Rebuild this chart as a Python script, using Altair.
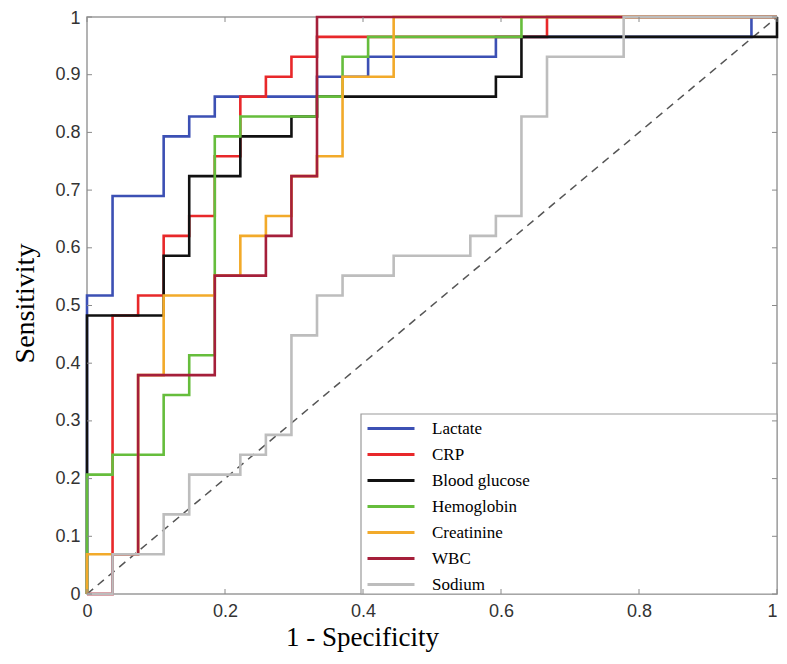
import altair as alt
import pandas as pd

# ROC step corners, as counts of false positives (of 27 negatives) and true positives (of 29 positives)
N_NEG = 27
N_POS = 29

series = ["Lactate", "CRP", "Blood glucose", "Hemoglobin", "Creatinine", "WBC", "Sodium"]
colors = ["#3c50b4", "#e8282a", "#111111", "#66bd3c", "#f2aa2a", "#a51f3a", "#bdbdbd"]

lactate_fp = [0, 0, 1, 1, 3, 3, 4, 4, 5, 5, 9, 9, 11, 11, 16, 16, 26, 26, 27]
lactate_tp = [0, 15, 15, 20, 20, 23, 23, 24, 24, 25, 25, 26, 26, 27, 27, 28, 28, 29, 29]

crp_fp = [0, 1, 1, 2, 2, 3, 3, 4, 4, 5, 5, 6, 6, 7, 7, 8, 8, 9, 9, 18, 18, 27]
crp_tp = [0, 0, 14, 14, 15, 15, 18, 18, 19, 19, 22, 22, 25, 25, 26, 26, 27, 27, 28, 28, 29, 29]

glucose_fp = [0, 0, 3, 3, 4, 4, 6, 6, 8, 8, 9, 9, 16, 16, 17, 17, 27, 27]
glucose_tp = [0, 14, 14, 17, 17, 21, 21, 23, 23, 24, 24, 25, 25, 26, 26, 28, 28, 29]

hb_fp = [0, 0, 1, 1, 3, 3, 4, 4, 5, 5, 6, 6, 9, 9, 10, 10, 11, 11, 17, 17, 27]
hb_tp = [0, 6, 6, 7, 7, 10, 10, 12, 12, 23, 23, 24, 24, 25, 25, 27, 27, 28, 28, 29, 29]

creat_fp = [0, 0, 2, 2, 3, 3, 5, 5, 6, 6, 7, 7, 8, 8, 9, 9, 10, 10, 12, 12, 27]
creat_tp = [0, 2, 2, 11, 11, 15, 15, 16, 16, 18, 18, 19, 19, 21, 21, 22, 22, 26, 26, 29, 29]

wbc_fp = [0, 1, 1, 2, 2, 5, 5, 7, 7, 8, 8, 9, 9, 27]
wbc_tp = [0, 0, 2, 2, 11, 11, 16, 16, 18, 18, 21, 21, 29, 29]

sodium_fp = [0, 1, 1, 3, 3, 4, 4, 6, 6, 7, 7, 8, 8, 9, 9, 10, 10, 12, 12, 15, 15, 16, 16, 17, 17, 18, 18, 21, 21, 27]
sodium_tp = [0, 0, 2, 2, 4, 4, 6, 6, 7, 7, 8, 8, 13, 13, 15, 15, 16, 16, 17, 17, 18, 18, 19, 19, 24, 24, 27, 27, 29, 29]

diag_x = [0, 1]
diag_y = [0, 1]

x_ticks = [0, 0.2, 0.4, 0.6, 0.8, 1]
y_ticks = [0, 0.1, 0.2, 0.3, 0.4, 0.5, 0.6, 0.7, 0.8, 0.9, 1]

W, H = 690, 577

curves = [
    ("Lactate", lactate_fp, lactate_tp),
    ("CRP", crp_fp, crp_tp),
    ("Blood glucose", glucose_fp, glucose_tp),
    ("Hemoglobin", hb_fp, hb_tp),
    ("Creatinine", creat_fp, creat_tp),
    ("WBC", wbc_fp, wbc_tp),
    ("Sodium", sodium_fp, sodium_tp),
]
rows = []
for name, fp, tp in curves:
    for i, (a, b) in enumerate(zip(fp, tp)):
        rows.append({"series": name, "i": i, "fpr": a / N_NEG, "tpr": b / N_POS})
df = pd.DataFrame(rows)

xscale = alt.Scale(domain=[0, 1], nice=False, zero=False)
yscale = alt.Scale(domain=[0, 1], nice=False, zero=False)

x_axis = alt.Axis(
    values=x_ticks, format="~g", grid=False, domain=False, ticks=False,
    labelFont="Liberation Sans", labelFontSize=18, labelColor="#333333",
    labelPadding=8, labelFlush=False, labelOverlap=False,
    labelAlign={"condition": {"test": "datum.value == 1", "value": "right"}, "value": "center"},
    title="1 - Specificity", titleFont="Liberation Serif", titleFontSize=27,
    titleFontWeight="normal", titleColor="black",
    titleX=275, titleY=51, titleAlign="center", titleBaseline="alphabetic",
)
y_axis = alt.Axis(
    values=y_ticks, format="~g", grid=False, domain=False, ticks=False,
    labelFont="Liberation Sans", labelFontSize=18, labelColor="#333333",
    labelPadding=7, labelOverlap=False, labelFlush=False,
    labelOffset={"condition": {"test": "datum.value == 1", "value": 1}, "value": 0},
    title="Sensitivity", titleFont="Liberation Serif", titleFontSize=28,
    titleFontWeight="normal", titleColor="black",
    titleX=-54, titleY=286, titleAngle=-90, titleAlign="center", titleBaseline="alphabetic",
)

legend = alt.Legend(
    orient="none", legendX=279, legendY=399, title=None,
    symbolType="stroke", symbolSize=2209, symbolStrokeWidth=3,
    clipHeight=25.2, rowPadding=0, padding=0,
    labelFont="Liberation Serif", labelFontSize=17, labelColor="black",
    labelOffset=16, labelLimit=400,
)

color = alt.Color("series:N", scale=alt.Scale(domain=series, range=colors), legend=legend)

# legend frame
box = alt.Chart(pd.DataFrame({"a": [0]})).mark_rect(
    fill="white", stroke="#9a9a9a", strokeWidth=1.2
).encode(x=alt.value(274), x2=alt.value(W), y=alt.value(397), y2=alt.value(H))

diag = alt.Chart(pd.DataFrame({"x": diag_x, "y": diag_y})).mark_line(
    color="#555555", strokeDash=[8, 6], strokeWidth=1.5
).encode(
    x=alt.X("x:Q", scale=xscale, axis=x_axis),
    y=alt.Y("y:Q", scale=yscale, axis=y_axis),
)

layers = [box, diag]
for name, _, _ in curves:
    layers.append(
        alt.Chart(df).transform_filter(alt.datum.series == name).mark_line(strokeWidth=2.6).encode(
            x=alt.X("fpr:Q", scale=xscale, axis=x_axis),
            y=alt.Y("tpr:Q", scale=yscale, axis=y_axis),
            color=color,
            order=alt.Order("i:Q"),
        )
    )

xt = pd.DataFrame({"v": x_ticks})
yt = pd.DataFrame({"v": y_ticks})
tick_style = dict(color="#8a8a8a", strokeWidth=1)
layers += [
    alt.Chart(xt).mark_rule(**tick_style).encode(x=alt.X("v:Q", scale=xscale, axis=x_axis), y=alt.value(H), y2=alt.value(H - 5)),
    alt.Chart(xt).mark_rule(**tick_style).encode(x=alt.X("v:Q", scale=xscale, axis=x_axis), y=alt.value(0), y2=alt.value(5)),
    alt.Chart(yt).mark_rule(**tick_style).encode(y=alt.Y("v:Q", scale=yscale, axis=y_axis), x=alt.value(0), x2=alt.value(5)),
    alt.Chart(yt).mark_rule(**tick_style).encode(y=alt.Y("v:Q", scale=yscale, axis=y_axis), x=alt.value(W), x2=alt.value(W - 5)),
]

chart = alt.layer(*layers).properties(
    width=W, height=H,
    padding={"left": 79, "top": 9, "right": 2, "bottom": 58},
    autosize=alt.AutoSizeParams(type="none"),
    background="white",
).configure_view(stroke="#9a9a9a", strokeWidth=1.5)

chart.save("out.html", embed_options={"renderer": "svg", "actions": False})
